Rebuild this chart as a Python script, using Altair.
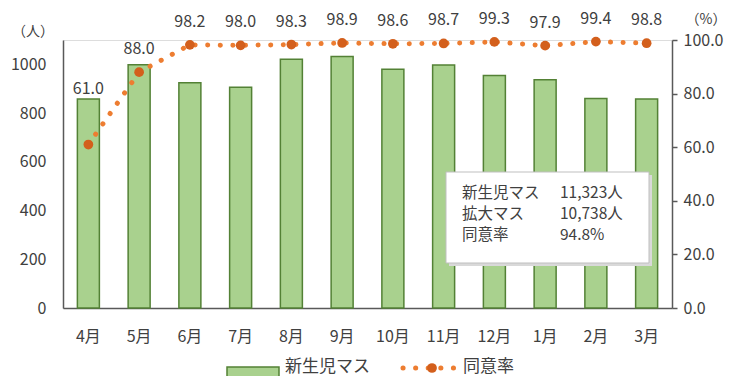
import altair as alt
import pandas as pd

months = ["4月", "5月", "6月", "7月", "8月", "9月", "10月", "11月", "12月", "1月", "2月", "3月"]
newborn = [858, 998, 925, 906, 1021, 1032, 980, 997, 954, 937, 860, 858]
rate = [61.0, 88.0, 98.2, 98.0, 98.3, 98.9, 98.6, 98.7, 99.3, 97.9, 99.4, 98.8]
left_ticks = [0, 200, 400, 600, 800, 1000]
right_ticks = [0, 20, 40, 60, 80, 100]
box_labels = ["新生児マス", "拡大マス", "同意率"]
box_values = ["11,323人", "10,738人", "94.8%"]
legend_labels = ["新生児マス", "同意率"]
unit_left = "（人）"
unit_right = "（%）"

df = pd.DataFrame({"month": months, "newborn": newborn, "rate": rate})
one = pd.DataFrame({"k": [0]})

FONT = "Noto Sans CJK JP"
TXT = "#404040"
AX = "#595959"
BAR_FILL = "#A9D18E"
BAR_STROKE = "#538135"
DOT = "#ED7D31"
MARK = "#D35F1C"

x_enc = alt.X("month:N", sort=months, title=None,
              scale=alt.Scale(paddingInner=0.56, paddingOuter=0.28),
              axis=alt.Axis(labelAngle=0, ticks=False, domainColor=AX, domainWidth=1.5,
                            labelFontSize=16, labelColor=TXT, labelFont=FONT,
                            labelPadding=20, labelBaseline="top"))

bars = alt.Chart(df).mark_bar(size=22, fill=BAR_FILL, stroke=BAR_STROKE, strokeWidth=1.5).encode(
    x=x_enc,
    y=alt.Y("newborn:Q", title=None, scale=alt.Scale(domain=[0, 1100], nice=False),
            axis=alt.Axis(values=left_ticks, format="d", ticks=False, grid=False,
                          domainColor=AX, domainWidth=1.5,
                          labelFontSize=16, labelColor=TXT, labelFont=FONT, labelPadding=17)),
)

y_rate = alt.Y("rate:Q", title=None, scale=alt.Scale(domain=[0, 100], nice=False),
               axis=alt.Axis(orient="right", values=right_ticks, format=".1f", grid=False,
                             ticks=True, tickSize=5, tickColor=AX, tickWidth=1.5,
                             domainColor=AX, domainWidth=1.5,
                             labelFontSize=16, labelColor=TXT, labelFont=FONT, labelPadding=6))

line = alt.Chart(df).mark_line(color=DOT, strokeWidth=5, strokeDash=[0.1, 12.5], strokeCap="round").encode(
    x=alt.X("month:N", sort=months), y=y_rate)
pts = alt.Chart(df).mark_circle(size=95, color=MARK, opacity=1).encode(
    x=alt.X("month:N", sort=months), y=alt.Y("rate:Q"))
lab_hi = alt.Chart(df).transform_filter(alt.datum.rate >= 70).mark_text(
    dy=-23, fontSize=16, color=TXT, font=FONT, baseline="middle").encode(
    x=alt.X("month:N", sort=months), y=alt.Y("rate:Q"), text=alt.Text("rate:Q", format=".1f"))
lab_lo = alt.Chart(df).transform_filter(alt.datum.rate < 70).mark_text(
    dy=-56, fontSize=16, color=TXT, font=FONT, baseline="middle").encode(
    x=alt.X("month:N", sort=months), y=alt.Y("rate:Q"), text=alt.Text("rate:Q", format=".1f"))

rate_layer = alt.layer(line, pts, lab_hi, lab_lo)

# annotation box
shadow = alt.Chart(one).mark_rect(fill="#D9D9D9").encode(
    x=alt.value(386), x2=alt.value(589), y=alt.value(135), y2=alt.value(226))
box = alt.Chart(one).mark_rect(fill="white", stroke="#BFBFBF", strokeWidth=1).encode(
    x=alt.value(383), x2=alt.value(586), y=alt.value(132), y2=alt.value(223))
box_texts = []
for i, (lbl, val) in enumerate(zip(box_labels, box_values)):
    yy = 153 + i * 21
    box_texts.append(alt.Chart(one).mark_text(text=lbl, fontSize=15.5, font=FONT, color=TXT,
                                              align="left", baseline="middle").encode(
        x=alt.value(399), y=alt.value(yy)))
    box_texts.append(alt.Chart(one).mark_text(text=val, fontSize=15.5, font=FONT, color=TXT,
                                              align="left", baseline="middle").encode(
        x=alt.value(497), y=alt.value(yy)))

# units
u_left = alt.Chart(one).mark_text(text=unit_left, fontSize=14, font=FONT, color=TXT).encode(
    x=alt.value(-30), y=alt.value(-8))
u_right = alt.Chart(one).mark_text(text=unit_right, fontSize=14, font=FONT, color=TXT).encode(
    x=alt.value(643), y=alt.value(-20))

# legend
lg_rect = alt.Chart(one).mark_rect(fill=BAR_FILL, stroke=BAR_STROKE, strokeWidth=1.5).encode(
    x=alt.value(164), x2=alt.value(216), y=alt.value(327), y2=alt.value(338))
lg_t1 = alt.Chart(one).mark_text(text=legend_labels[0], fontSize=17, font=FONT, color=TXT,
                                 align="left", baseline="middle").encode(
    x=alt.value(222), y=alt.value(327))
lg_line = alt.Chart(one).mark_rule(color=DOT, strokeWidth=5, strokeDash=[0.1, 12.5], strokeCap="round").encode(
    x=alt.value(340), x2=alt.value(394), y=alt.value(328))
lg_pt = alt.Chart(one).mark_circle(size=95, color=MARK, opacity=1).encode(
    x=alt.value(369), y=alt.value(328))
lg_t2 = alt.Chart(one).mark_text(text=legend_labels[1], fontSize=17, font=FONT, color=TXT,
                                 align="left", baseline="middle").encode(
    x=alt.value(400), y=alt.value(327))

chart = alt.layer(
    bars, rate_layer, shadow, box, *box_texts, u_left, u_right,
    lg_rect, lg_t1, lg_line, lg_pt, lg_t2
).resolve_scale(y="independent").properties(
    width=609, height=268,
    autosize=alt.AutoSizeParams(type="none"),
    padding={"left": 63, "top": 40, "right": 59, "bottom": 68},
).configure_view(stroke=None).configure(background="white")

chart.save("out.html", embed_options={"renderer": "svg", "actions": False})
